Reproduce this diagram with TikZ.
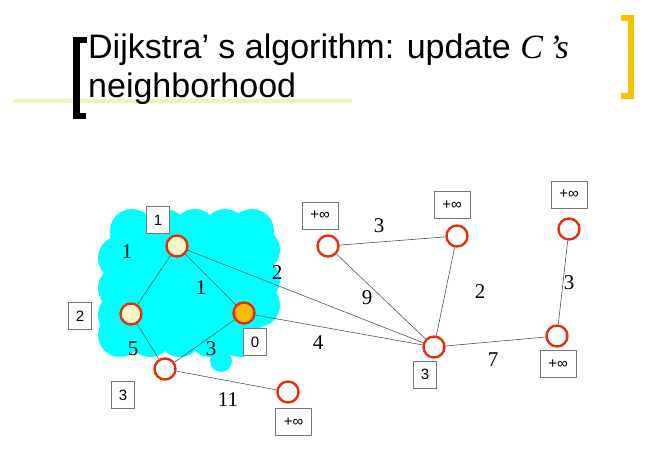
\documentclass[tikz,border=0pt]{standalone}
\usepackage{fontspec}
\setmainfont{Liberation Sans}
\newfontfamily\serifface{Liberation Serif}
\definecolor{vred}{RGB}{225,50,10}
\definecolor{vpale}{RGB}{255,248,200}
\definecolor{vorange}{RGB}{255,185,15}
\definecolor{blob}{RGB}{0,255,255}
\definecolor{edgegray}{RGB}{85,85,85}
\definecolor{boxgray}{RGB}{120,120,120}
\definecolor{gold}{RGB}{245,196,0}
\definecolor{paleline}{RGB}{240,243,185}
\begin{document}
\begin{tikzpicture}[x=1pt,y=-1pt,
  vtx/.style={circle,draw=vred,line width=2.4pt,minimum size=21pt,inner sep=0pt,fill=white},
  visited/.style={vtx,fill=vpale},
  current/.style={vtx,fill=vorange},
  distbox/.style={draw=boxgray,line width=0.8pt,fill=white,minimum width=23pt,minimum height=27pt,
    inner sep=0pt,font=\fontsize{15}{15}\selectfont},
  infbox/.style={distbox,minimum width=36pt},
  weight/.style={inner sep=0pt,font=\serifface\fontsize{21}{21}\selectfont},
  link/.style={draw=edgegray,line width=0.6pt},
  title/.style={anchor=base west,inner sep=0pt,font=\fontsize{34}{34}\selectfont}]
\useasboundingbox (0,0) rectangle (666,455);

% title
\draw[paleline,line width=4pt] (13,101) -- (352,101);
\draw[line width=6.5pt,miter limit=10] (87,40) -- (76.3,40) -- (76.3,115.8) -- (86,115.8);
\draw[gold,line width=5.5pt,miter limit=10] (621,17.8) -- (631.2,17.8) -- (631.2,96.2) -- (621,96.2);
\node[title] (t1) at (88,58) {Dijkstra’ s algorithm: update {\serifface\itshape C\,’s}};
\node[title] (t2) at (88,97) {neighborhood};

% visited region
\begin{scope}[fill=blob]
  \fill (120,230) rectangle (258,335);
  \foreach \x in {132,165,195,225,252} \fill (\x,231) circle (22);
  \foreach \y in {250,280,305} \fill (258,\y) circle (22);
  \foreach \x in {120,150,180,210,240} \fill (\x,335) circle (22);
  \foreach \y in {258,288,315} \fill (120,\y) circle (22);
  \fill (221,361) circle (11);
\end{scope}

% vertices
\node[visited] (a) at (177,246) {};
\node[visited] (b) at (131,314) {};
\node[current] (c) at (244,313) {};
\node[vtx] (d) at (165,369) {};
\node[vtx] (e) at (288,392) {};
\node[vtx] (f) at (328,246) {};
\node[vtx] (g) at (457,236) {};
\node[vtx] (h) at (434,347) {};
\node[vtx] (i) at (557,336) {};
\node[vtx] (j) at (569,229) {};

% edges
\path[link] (a) -- (b);
\path[link] (a) -- (c);
\path[link] (a) -- (h);
\path[link] (c) -- (h);
\path[link] (b) -- (d);
\path[link] (c) -- (d);
\path[link] (d) -- (e);
\path[link] (f) -- (g);
\path[link] (f) -- (h);
\path[link] (g) -- (h);
\path[link] (h) -- (i);
\path[link] (i) -- (j);

% weights
\node[weight] (w1) at (127,252) {1};
\node[weight] (w2) at (201,288) {1};
\node[weight] (w3) at (277,273) {2};
\node[weight] (w4) at (133,349) {5};
\node[weight] (w5) at (211,349) {3};
\node[weight] (w6) at (318,343) {4};
\node[weight] (w7) at (367,298) {9};
\node[weight] (w8) at (379,226) {3};
\node[weight] (w9) at (480,292) {2};
\node[weight] (w10) at (569,283) {3};
\node[weight] (w11) at (493,360) {7};
\node[weight] (w12) at (228,400) {11};

% tentative distances
\node[distbox] (da) at (158,220) {1};
\node[distbox] (db) at (80,316) {2};
\node[distbox] (dc) at (255,342) {0};
\node[distbox] (dd) at (123,395) {3};
\node[infbox] (de) at (293.5,421.7) {+∞};
\node[infbox] (df) at (320,215.5) {+∞};
\node[infbox] (dg) at (452,205) {+∞};
\node[distbox] (dh) at (425,374.5) {3};
\node[infbox] (di) at (558,364) {+∞};
\node[infbox] (dj) at (569,194.5) {+∞};
\end{tikzpicture}
\end{document}
